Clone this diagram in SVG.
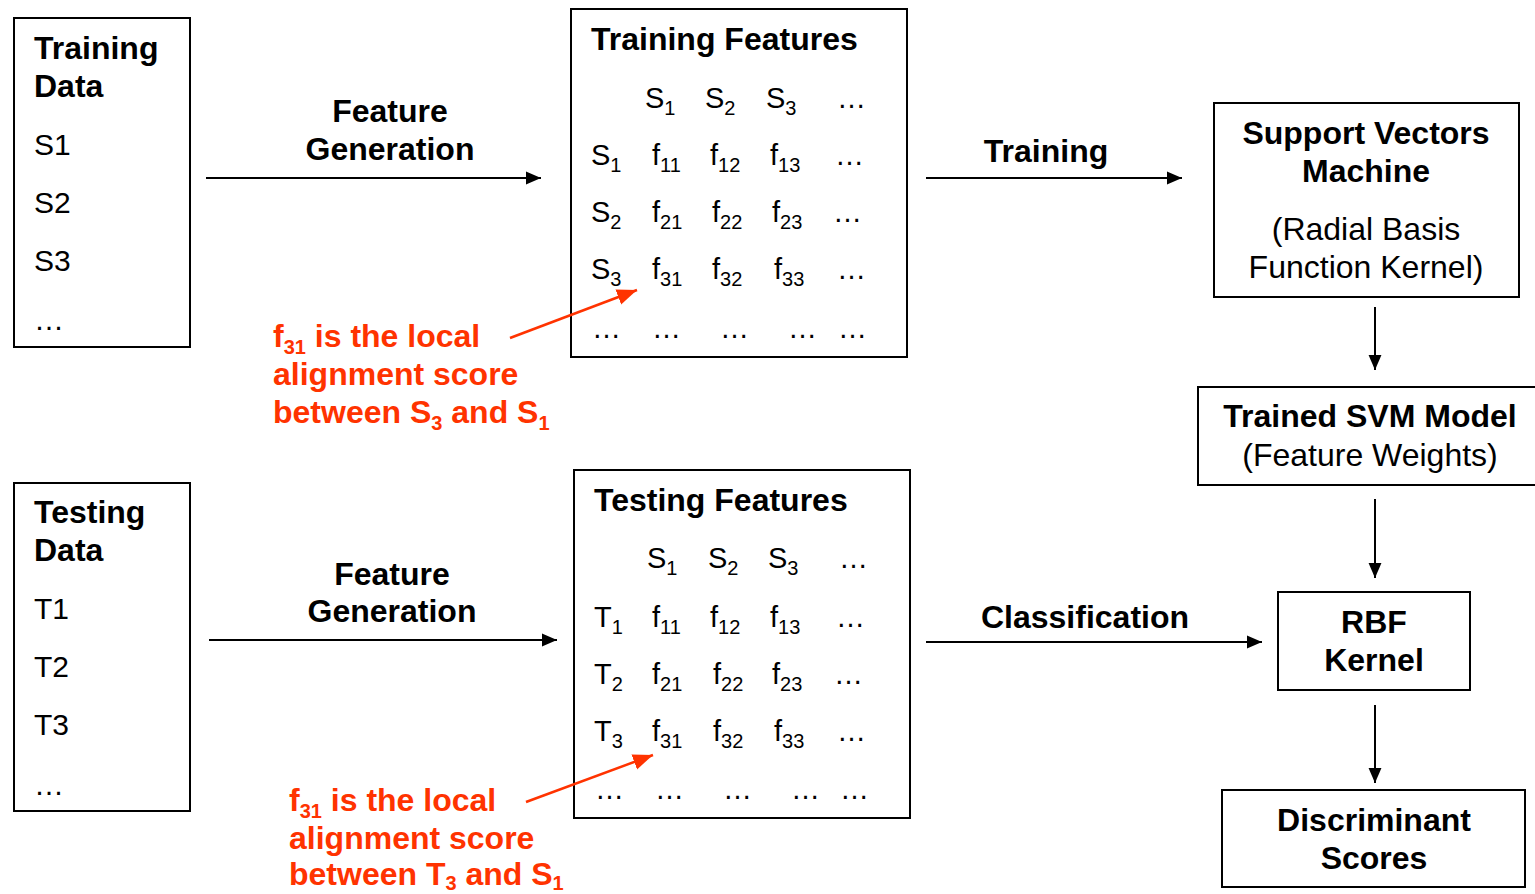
<svg xmlns="http://www.w3.org/2000/svg" width="1535" height="894" viewBox="0 0 1535 894">
<style>
.box{fill:#fff;stroke:#000;stroke-width:2}
text{font-family:"Liberation Sans",Arial,sans-serif;fill:#000}
.b{font-weight:bold;font-size:32px}
.r{font-size:32px}
.d{font-size:30px}
.m{font-size:29px}
.s{font-size:20px}
.red{fill:#FF3300;font-weight:bold;font-size:32px}
.c{text-anchor:middle}
.ln{stroke:#000;stroke-width:2;fill:none}
.rl{stroke:#FF3300;stroke-width:2.5;fill:none}
</style>
<defs>
<marker id="ahb" viewBox="0 0 10 10" refX="10" refY="5" markerWidth="15" markerHeight="15" markerUnits="userSpaceOnUse" orient="auto"><path d="M0,0.7L10,5L0,9.3z" fill="#000"/></marker>
<marker id="rh" viewBox="0 0 10 10" refX="10" refY="5" markerWidth="20" markerHeight="20" markerUnits="userSpaceOnUse" orient="auto"><path d="M0,1L10,5L0,9z" fill="#FF3300"/></marker>
</defs>

<g id="training-data">
<rect class="box" x="14" y="18" width="176" height="329"/>
<text class="b" x="34" y="59">Training</text>
<text class="b" x="34" y="97">Data</text>
<text class="d" x="34" y="155">S1</text>
<text class="d" x="34" y="213">S2</text>
<text class="d" x="34" y="271">S3</text>
<text class="d" x="34" y="330">…</text>
</g>

<g id="testing-data">
<rect class="box" x="14" y="483" width="176" height="328"/>
<text class="b" x="34" y="523">Testing</text>
<text class="b" x="34" y="561">Data</text>
<text class="d" x="34" y="619">T1</text>
<text class="d" x="34" y="677">T2</text>
<text class="d" x="34" y="735">T3</text>
<text class="d" x="34" y="795">…</text>
</g>

<g id="training-features">
<rect class="box" x="571" y="9" width="336" height="348"/>
<text class="b" x="591" y="50">Training Features</text>
<g class="m">
<text x="645" y="108">S<tspan class="s" dy="7">1</tspan></text>
<text x="705" y="108">S<tspan class="s" dy="7">2</tspan></text>
<text x="766" y="108">S<tspan class="s" dy="7">3</tspan></text>
<text x="837" y="108">…</text>
<text x="591" y="165">S<tspan class="s" dy="7">1</tspan></text>
<text x="652" y="165">f<tspan class="s" dy="7">11</tspan></text>
<text x="710" y="165">f<tspan class="s" dy="7">12</tspan></text>
<text x="770" y="165">f<tspan class="s" dy="7">13</tspan></text>
<text x="835" y="165">…</text>
<text x="591" y="222">S<tspan class="s" dy="7">2</tspan></text>
<text x="652" y="222">f<tspan class="s" dy="7">21</tspan></text>
<text x="712" y="222">f<tspan class="s" dy="7">22</tspan></text>
<text x="772" y="222">f<tspan class="s" dy="7">23</tspan></text>
<text x="833" y="222">…</text>
<text x="591" y="279">S<tspan class="s" dy="7">3</tspan></text>
<text x="652" y="279">f<tspan class="s" dy="7">31</tspan></text>
<text x="712" y="279">f<tspan class="s" dy="7">32</tspan></text>
<text x="774" y="279">f<tspan class="s" dy="7">33</tspan></text>
<text x="837" y="279">…</text>
<text x="592" y="338">…</text>
<text x="652" y="338">…</text>
<text x="720" y="338">…</text>
<text x="788" y="338">…</text>
<text x="838" y="338">…</text>
</g>
</g>

<g id="testing-features">
<rect class="box" x="574" y="470" width="336" height="348"/>
<text class="b" x="594" y="511">Testing Features</text>
<g class="m">
<text x="647" y="568">S<tspan class="s" dy="7">1</tspan></text>
<text x="708" y="568">S<tspan class="s" dy="7">2</tspan></text>
<text x="768" y="568">S<tspan class="s" dy="7">3</tspan></text>
<text x="839" y="568">…</text>
<text x="594" y="627">T<tspan class="s" dy="7">1</tspan></text>
<text x="652" y="627">f<tspan class="s" dy="7">11</tspan></text>
<text x="710" y="627">f<tspan class="s" dy="7">12</tspan></text>
<text x="770" y="627">f<tspan class="s" dy="7">13</tspan></text>
<text x="836" y="627">…</text>
<text x="594" y="684">T<tspan class="s" dy="7">2</tspan></text>
<text x="652" y="684">f<tspan class="s" dy="7">21</tspan></text>
<text x="713" y="684">f<tspan class="s" dy="7">22</tspan></text>
<text x="772" y="684">f<tspan class="s" dy="7">23</tspan></text>
<text x="834" y="684">…</text>
<text x="594" y="741">T<tspan class="s" dy="7">3</tspan></text>
<text x="652" y="741">f<tspan class="s" dy="7">31</tspan></text>
<text x="713" y="741">f<tspan class="s" dy="7">32</tspan></text>
<text x="774" y="741">f<tspan class="s" dy="7">33</tspan></text>
<text x="837" y="741">…</text>
<text x="595" y="799">…</text>
<text x="655" y="799">…</text>
<text x="723" y="799">…</text>
<text x="791" y="799">…</text>
<text x="840" y="799">…</text>
</g>
</g>

<g id="note-training">
<text class="red" x="273" y="347">f<tspan class="s" dy="7">31</tspan><tspan dy="-7"> is the local</tspan></text>
<text class="red" x="273" y="385">alignment score</text>
<text class="red" x="273" y="423">between S<tspan class="s" dy="7">3</tspan><tspan dy="-7"> and S</tspan><tspan class="s" dy="7">1</tspan></text>
</g>

<g id="note-testing">
<text class="red" x="289" y="811">f<tspan class="s" dy="7">31</tspan><tspan dy="-7"> is the local</tspan></text>
<text class="red" x="289" y="849">alignment score</text>
<text class="red" x="289" y="885">between T<tspan class="s" dy="5">3</tspan><tspan dy="-5"> and S</tspan><tspan class="s" dy="5">1</tspan></text>
</g>

<g id="svm">
<rect class="box" x="1214" y="103" width="305" height="194"/>
<text class="b c" x="1366" y="144">Support Vectors</text>
<text class="b c" x="1366" y="182">Machine</text>
<text class="r c" x="1366" y="240">(Radial Basis</text>
<text class="r c" x="1366" y="278">Function Kernel)</text>
</g>

<g id="trained-model">
<rect class="box" x="1198" y="387" width="340" height="98"/>
<text class="b c" x="1370" y="427">Trained SVM Model</text>
<text class="r c" x="1370" y="466">(Feature Weights)</text>
</g>

<g id="rbf-kernel">
<rect class="box" x="1278" y="592" width="192" height="98"/>
<text class="b c" x="1374" y="633">RBF</text>
<text class="b c" x="1374" y="671">Kernel</text>
</g>

<g id="discriminant">
<rect class="box" x="1222" y="790" width="303" height="97"/>
<text class="b c" x="1374" y="831">Discriminant</text>
<text class="b c" x="1374" y="869">Scores</text>
</g>

<g id="connectors">
<line class="ln" x1="206" y1="178" x2="541" y2="178" marker-end="url(#ahb)"/>
<line class="ln" x1="209" y1="640" x2="557" y2="640" marker-end="url(#ahb)"/>
<line class="ln" x1="926" y1="178" x2="1182" y2="178" marker-end="url(#ahb)"/>
<line class="ln" x1="926" y1="642" x2="1262" y2="642" marker-end="url(#ahb)"/>
<line class="ln" x1="1375" y1="307" x2="1375" y2="370" marker-end="url(#ahb)"/>
<line class="ln" x1="1375" y1="499" x2="1375" y2="578" marker-end="url(#ahb)"/>
<line class="ln" x1="1375" y1="705" x2="1375" y2="783" marker-end="url(#ahb)"/>
<line class="rl" x1="510" y1="338" x2="637" y2="290" marker-end="url(#rh)"/>
<line class="rl" x1="526" y1="802" x2="653" y2="755" marker-end="url(#rh)"/>
<text class="b c" x="390" y="122">Feature</text>
<text class="b c" x="390" y="160">Generation</text>
<text class="b c" x="392" y="585">Feature</text>
<text class="b c" x="392" y="622">Generation</text>
<text class="b c" x="1046" y="162">Training</text>
<text class="b c" x="1085" y="628">Classification</text>
</g>
</svg>
